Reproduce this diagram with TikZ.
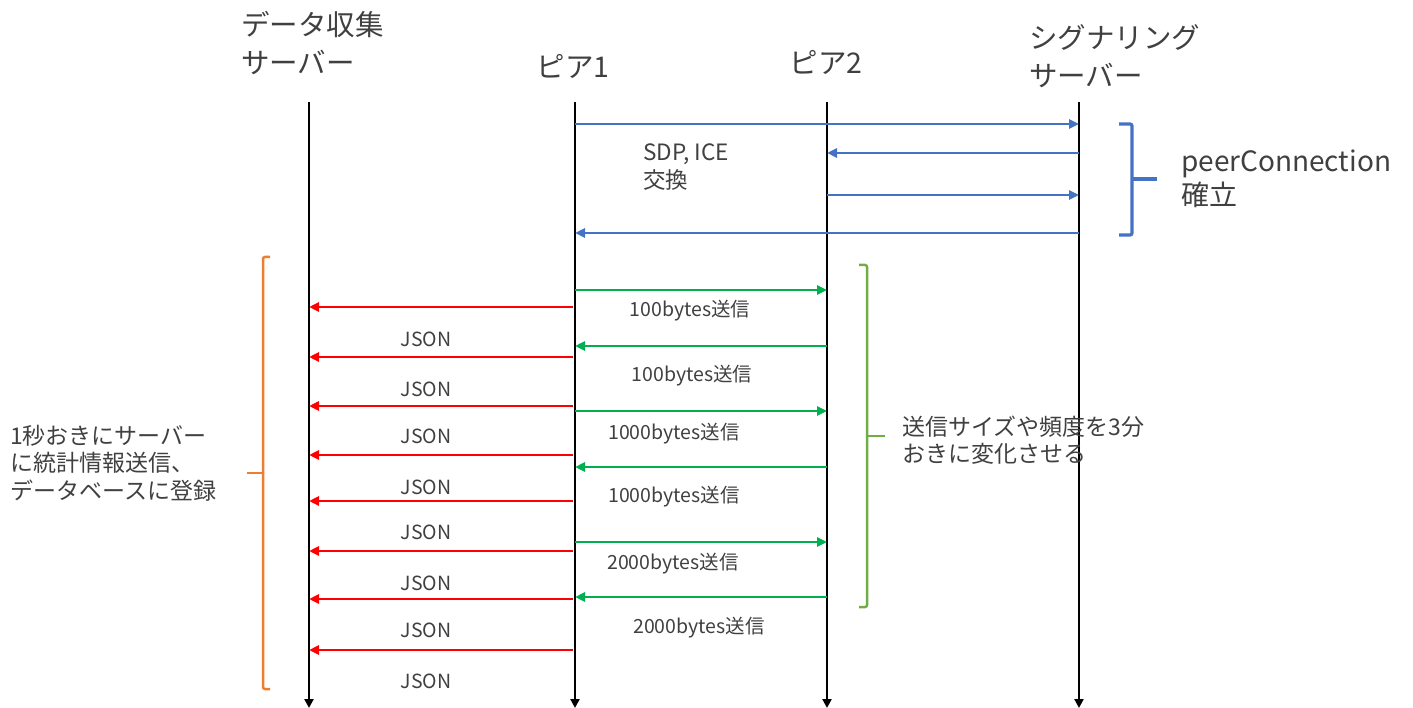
\documentclass[tikz,border=0pt]{standalone}
\usepackage{fontspec}
\setmainfont{Noto Sans CJK JP}
\usetikzlibrary{arrows.meta}
\definecolor{msgblue}{HTML}{4472C4}
\definecolor{msggreen}{HTML}{00B050}
\definecolor{msgred}{HTML}{FF0000}
\definecolor{brorange}{HTML}{ED7D31}
\definecolor{brgreen}{HTML}{70AD47}
\definecolor{txt}{HTML}{404040}
\tikzset{
  lifeline/.style={line width=2.8pt, black, -{Triangle[length=9pt,width=9pt]}},
  bluemsg/.style={line width=2.5pt, msgblue, -{Triangle[length=10pt,width=9pt]}},
  greenmsg/.style={line width=2.5pt, msggreen, -{Triangle[length=10pt,width=9pt]}},
  redmsg/.style={line width=2.5pt, msgred, -{Triangle[length=10pt,width=9pt]}},
  head/.style={text=txt, font=\fontsize{28.5}{38}\selectfont, align=left, inner sep=0pt},
  small/.style={text=txt, font=\fontsize{19.5}{24}\selectfont, inner sep=0pt},
  note/.style={text=txt, font=\fontsize{23}{27.5}\selectfont, align=left, inner sep=0pt, anchor=west},
  brace/.style={line width=2.5pt, rounded corners=2pt}
}
\begin{document}
\begin{tikzpicture}[x=1pt,y=-1pt]
\useasboundingbox (0,0) rectangle (1413,708);
% headers
\node[head, anchor=west] (hdc) at (241,43) {データ収集\\サーバー};
\node[head] (hp1) at (573,66) {ピア1};
\node[head] (hp2) at (826,62) {ピア2};
\node[head, anchor=west] (hsig) at (1029,56) {シグナリング\\サーバー};
% lifelines
\coordinate (dcT) at (309,102); \coordinate (dcB) at (309,708);
\coordinate (p1T) at (575,102); \coordinate (p1B) at (575,708);
\coordinate (p2T) at (827,102); \coordinate (p2B) at (827,708);
\coordinate (sgT) at (1079,102); \coordinate (sgB) at (1079,708);
\draw[lifeline] (dcT) -- (dcB);
\draw[lifeline] (p1T) -- (p1B);
\draw[lifeline] (p2T) -- (p2B);
\draw[lifeline] (sgT) -- (sgB);
% blue messages
\coordinate (b1s) at (575,124); \coordinate (b1e) at (1079,124);
\coordinate (b2s) at (1079,153); \coordinate (b2e) at (827,153);
\coordinate (b3s) at (827,195); \coordinate (b3e) at (1079,195);
\coordinate (b4s) at (1079,233); \coordinate (b4e) at (575,233);
\draw[bluemsg] (b1s) -- (b1e);
\draw[bluemsg] (b2s) -- (b2e);
\draw[bluemsg] (b3s) -- (b3e);
\draw[bluemsg] (b4s) -- (b4e);
\node[text=txt, font=\fontsize{22.5}{28}\selectfont, align=left, inner sep=0pt, anchor=west] (sdp) at (643,167) {SDP, ICE\\交換};
% blue brace
\coordinate (bbT) at (1119,124); \coordinate (bbB) at (1119,235); \coordinate (bbM) at (1157,179);
\draw[brace, msgblue, line width=3.2pt] (bbT) -- (1132,124) -- (1132,235) -- (bbB);
\draw[msgblue, line width=3.2pt] (1132,179) -- (bbM);
\node[text=txt, font=\fontsize{28}{34}\selectfont, align=left, inner sep=0pt, anchor=west] (pc) at (1181,179) {peerConnection\\確立};
% green messages
\coordinate (g1s) at (575,290); \coordinate (g1e) at (827,290);
\coordinate (g2s) at (827,346); \coordinate (g2e) at (575,346);
\coordinate (g3s) at (575,411); \coordinate (g3e) at (827,411);
\coordinate (g4s) at (827,467); \coordinate (g4e) at (575,467);
\coordinate (g5s) at (575,542); \coordinate (g5e) at (827,542);
\coordinate (g6s) at (827,597); \coordinate (g6e) at (575,597);
\draw[greenmsg] (g1s) -- (g1e);
\draw[greenmsg] (g2s) -- (g2e);
\draw[greenmsg] (g3s) -- (g3e);
\draw[greenmsg] (g4s) -- (g4e);
\draw[greenmsg] (g5s) -- (g5e);
\draw[greenmsg] (g6s) -- (g6e);
\node[small] (l1) at (690,311) {100bytes送信};
\node[small] (l2) at (692,376) {100bytes送信};
\node[small] (l3) at (674,434) {1000bytes送信};
\node[small] (l4) at (674,497) {1000bytes送信};
\node[small] (l5) at (673,564) {2000bytes送信};
\node[small] (l6) at (699,628) {2000bytes送信};
% red messages
\foreach \i/\y in {1/307,2/357,3/406,4/455,5/501,6/551,7/599,8/650}{
  \coordinate (r\i s) at (573,\y); \coordinate (r\i e) at (309,\y);
  \draw[redmsg] (r\i s) -- (r\i e);
}
\foreach \i/\y in {1/339,2/389,3/436,4/487,5/532,6/583,7/630,8/681}{
  \node[small] (j\i) at (426,\y) {JSON};
}
% orange brace
\draw[brace, brorange] (270,257) -- (263,257) -- (263,689) -- (270,689);
\coordinate (obM) at (247,473);
\draw[brorange, line width=2.5pt] (263,473) -- (obM);
\node[note] (onote) at (10,463) {1秒おきにサーバー\\に統計情報送信、\\データベースに登録};
% green brace
\draw[brace, brgreen] (859,265) -- (867,265) -- (867,607) -- (859,607);
\coordinate (gbM) at (885,436);
\draw[brgreen, line width=2.5pt] (867,436) -- (gbM);
\node[note] (gnote) at (902,440) {送信サイズや頻度を3分\\おきに変化させる};
\end{tikzpicture}
\end{document}
